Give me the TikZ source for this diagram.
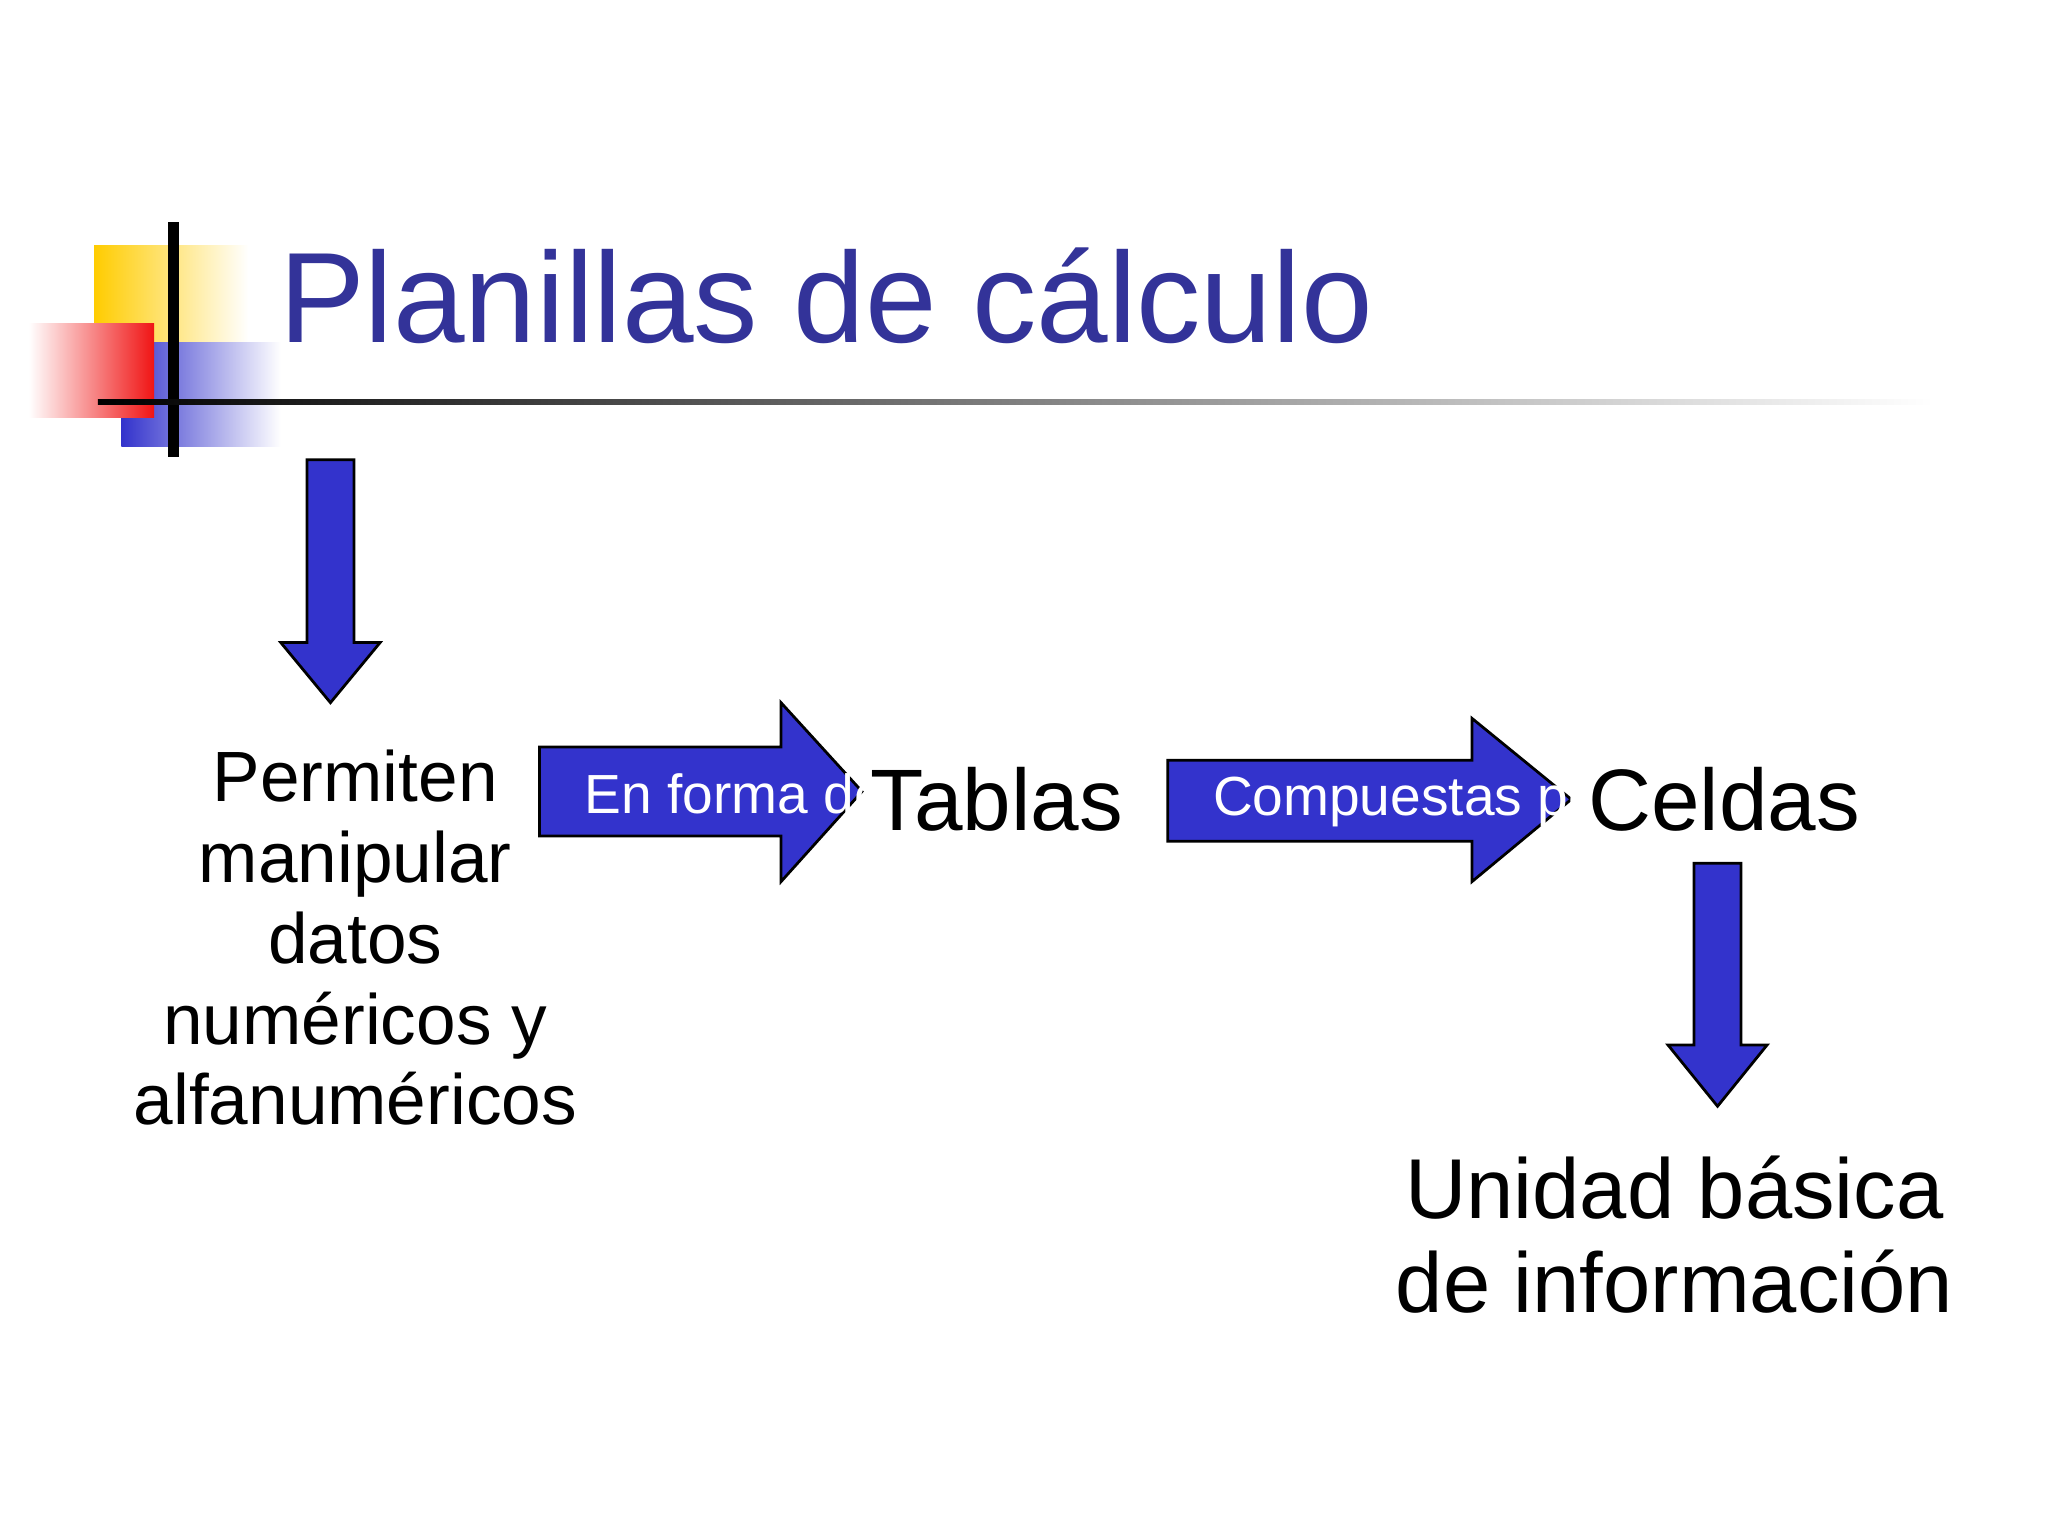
\documentclass[tikz,border=0pt]{standalone}
\usepackage{fontspec}
\setmainfont{Liberation Sans}
\begin{document}
\begin{tikzpicture}[x=0.01cm,y=-0.01cm,
  arr/.style={fill={rgb,255:red,51;green,51;blue,204},draw=black,line width=0.6pt},
  lbl/.style={font=\fontsize{17}{19}\selectfont,align=center,inner sep=0},
  big/.style={font=\fontsize{19}{21}\selectfont,align=center,inner sep=0}]
\useasboundingbox (0,0) rectangle (1568,1176);
\fill[white] (0,0) rectangle (1568,1176);
% logo
\shade[left color={rgb,255:red,255;green,204;blue,0},right color=white] (72,188) rectangle (190,305);
\shade[left color={rgb,255:red,51;green,51;blue,204},right color=white] (93,262) rectangle (215,342);
\shade[right color={rgb,255:red,240;green,20;blue,20},left color=white] (22,248) rectangle (118,320);
\draw[line width=2.5pt] (133,170) -- (133,350);
\shade[left color=black,right color=white] (75,306) rectangle (1480,310);
\node[anchor=base west,inner sep=0,text={rgb,255:red,51;green,51;blue,153},font=\fontsize{28}{30}\selectfont] (title) at (213,262) {Planillas de cálculo};
% arrows
\draw[arr] (235,352) -- (271,352) -- (271,492) -- (291,492) -- (253,538) -- (215,492) -- (235,492) -- cycle;
\draw[arr] (413,572) -- (598,572) -- (598,538) -- (660,606) -- (598,675) -- (598,640) -- (413,640) -- cycle;
\node[anchor=west,text=white,font=\fontsize{12}{14}\selectfont,inner sep=0] (t1) at (447,608) {En forma de};
\draw[arr] (894,582) -- (1127,582) -- (1127,550) -- (1203,612) -- (1127,675) -- (1127,644) -- (894,644) -- cycle;
\node[anchor=west,text=white,font=\fontsize{12}{14}\selectfont,inner sep=0] (t2) at (928,614) {Compuestas por};
\draw[arr] (1297,661) -- (1333,661) -- (1333,800) -- (1353,800) -- (1315,847) -- (1277,800) -- (1297,800) -- cycle;
% texts
\node[lbl,font=\fontsize{15.5}{17.6}\selectfont] (perm) at (272,718) {Permiten\\manipular\\datos\\numéricos y\\alfanuméricos};
\node[big] (tablas) at (763,612) {Tablas};
\node[big] (celdas) at (1320,612) {Celdas};
\node[big,font=\fontsize{18.5}{20.5}\selectfont] (unidad) at (1282,945) {Unidad básica\\de información};
\end{tikzpicture}
\end{document}
